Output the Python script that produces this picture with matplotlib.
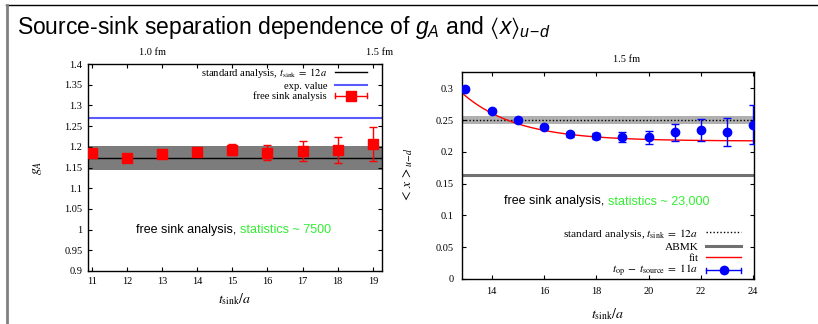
import numpy as np
import matplotlib
matplotlib.use("Agg")
import matplotlib.pyplot as plt
from matplotlib.lines import Line2D
from matplotlib.legend_handler import HandlerBase
import matplotlib.transforms as mtransforms

plt.rcParams['font.family'] = ['Liberation Serif', 'DejaVu Serif']
plt.rcParams['mathtext.fontset'] = 'custom'
plt.rcParams['mathtext.rm'] = 'Liberation Sans'
plt.rcParams['mathtext.it'] = 'Liberation Sans:italic'
plt.rcParams['mathtext.fallback'] = 'stixsans'

# ---------------- data: left panel (g_A) ----------------
gA_t = [11, 12, 13, 14, 15, 16, 17, 18, 19]
gA_val = [1.186, 1.174, 1.183, 1.187, 1.193, 1.186, 1.189, 1.193, 1.206]
gA_err = [0.005, 0.007, 0.007, 0.010, 0.014, 0.018, 0.024, 0.031, 0.041]
gA_std = 1.174
gA_std_lo = 1.144
gA_std_hi = 1.203
gA_exp = 1.27
gA_top_labels = ['1.0 fm', '1.5 fm']
gA_top_pos = [12.74, 19.18]
gA_yticks = [0.9, 0.95, 1.0, 1.05, 1.1, 1.15, 1.2, 1.25, 1.3, 1.35, 1.4]
gA_yticklabels = ['0.9', '0.95', '1', '1.05', '1.1', '1.15', '1.2', '1.25', '1.3', '1.35', '1.4']

# ---------------- data: right panel (<x>_{u-d}) ----------------
x_t = [13, 14, 15, 16, 17, 18, 19, 20, 21, 22, 23, 24]
x_val = [0.2995, 0.2647, 0.2500, 0.2390, 0.2275, 0.2248, 0.2238, 0.2228, 0.2310, 0.2348, 0.2310, 0.2426]
x_err = [0.002, 0.002, 0.002, 0.003, 0.004, 0.005, 0.008, 0.0105, 0.0135, 0.017, 0.0225, 0.031]
x_std = 0.250
x_std_lo = 0.2437
x_std_hi = 0.2558
x_abmk = 0.164
fit_A = 0.2170
fit_B = 0.0710
fit_c = 0.48
fit_t0 = 13
x_top_labels = ['1.5 fm']
x_top_pos = [19.15]
x_yticks = [0, 0.05, 0.1, 0.15, 0.2, 0.25, 0.3]
x_yticklabels = ['0', '0.05', '0.1', '0.15', '0.2', '0.25', '0.3']
x_xticks = [14, 16, 18, 20, 22, 24]

RED = '#ff0000'
BLUE = '#0000ff'
GREEN = '#33ee33'


class HandlerGnuErr(HandlerBase):
    def __init__(self, color, marker, ms, **kw):
        super().__init__(**kw)
        self.color = color
        self.marker = marker
        self.ms = ms

    def create_artists(self, legend, orig_handle, xdescent, ydescent,
                       width, height, fontsize, trans):
        x0 = -xdescent
        x1 = -xdescent + width
        y = -ydescent + height / 2.0
        h = fontsize * 0.22
        arts = [
            Line2D([x0, x1], [y, y], color=self.color, lw=1.0),
            Line2D([x0, x0], [y - h, y + h], color=self.color, lw=1.0),
            Line2D([x1, x1], [y - h, y + h], color=self.color, lw=1.0),
            Line2D([(x0 + x1) / 2], [y], color=self.color, marker=self.marker,
                   ms=self.ms, ls='none'),
        ]
        for a in arts:
            a.set_transform(trans)
        return arts


fig = plt.figure(figsize=(8.18, 3.24), dpi=100)

# frame lines
fig.add_artist(Line2D([6 / 818, 1.0], [1 - 5 / 324, 1 - 5 / 324], color='black', lw=1.0,
                      transform=fig.transFigure))
fig.add_artist(Line2D([6.5 / 818, 6.5 / 818], [0, 1 - 5 / 324], color='#808080', lw=2.0,
                      transform=fig.transFigure))

fig.text(17 / 818, 1 - 34 / 324,
         r'Source-sink separation dependence of $g_A$ and $\langle x\rangle_{u\!-\!d}$',
         fontsize=16.5, family='Liberation Sans', ha='left', va='baseline')

TICK_FS = 7.5

# ---------------- left panel ----------------
ax1 = fig.add_axes([88 / 818, 1 - 271 / 324, 294 / 818, 207 / 324])
ax1.set_xlim(10.89, 19.26)
ax1.set_ylim(0.9, 1.4)
ax1.axhspan(gA_std_lo, gA_std_hi, color='#7c7c7c', lw=0, zorder=1)
l_std = ax1.axhline(gA_std, color='black', lw=1.0, zorder=2)
l_exp = ax1.axhline(gA_exp, color='#5a5aff', lw=1.5, zorder=2)
ax1.errorbar(gA_t, gA_val, yerr=gA_err, fmt='s', color=RED, ms=6.5, capsize=3,
             elinewidth=1.0, capthick=1.0, zorder=3)
h_free = Line2D([], [], color=RED)
ax1.set_xticks(gA_t)
ax1.set_yticks(gA_yticks)
ax1.set_yticklabels(gA_yticklabels)
ax1.tick_params(direction='in', length=3, width=0.8, labelsize=TICK_FS,
                top=True, right=True, pad=4)
for s in ax1.spines.values():
    s.set_linewidth(1.0)
ax1.set_xlabel(r'$t_{\rm sink}/a$', fontsize=10, math_fontfamily='stix', labelpad=4)
ax1.set_ylabel(r'$g_A$', fontsize=10, math_fontfamily='stix', labelpad=14)
trans1 = mtransforms.blended_transform_factory(ax1.transData, ax1.transAxes)
for lab, pos in zip(gA_top_labels, gA_top_pos):
    ax1.text(pos, 1.055, lab, transform=trans1, ha='center', va='center', fontsize=TICK_FS)
xc1 = 0.5 + 4.5 / 294
ax1.text(xc1, 0.2, 'free sink analysis, ', transform=ax1.transAxes, ha='right',
         va='center', fontsize=9, family='Liberation Sans')
ax1.text(xc1, 0.2, 'statistics ~ 7500', transform=ax1.transAxes, ha='left',
         va='center', fontsize=9, family='Liberation Sans', color=GREEN)
leg1 = ax1.legend([l_std, l_exp, h_free],
                  [r'standard analysis, $t_{\rm sink}\;=\;12a$', 'exp. value',
                   'free sink analysis'],
                  loc='upper right', bbox_to_anchor=(0.955, 1.0), markerfirst=False,
                  frameon=False, handlelength=3.0, handletextpad=0.7,
                  labelspacing=0.1, borderpad=0.2, borderaxespad=0.0,
                  handler_map={h_free: HandlerGnuErr(RED, 's', 6.5)},
                  prop={'family': 'Liberation Serif', 'size': 7.7})
for t in leg1.get_texts():
    t.set_math_fontfamily('stix')

# ---------------- right panel ----------------
ax2 = fig.add_axes([462 / 818, 1 - 279 / 324, 292 / 818, 207 / 324])
ax2.set_xlim(12.87, 24.03)
ax2.set_ylim(0, 0.3256)
ax2.axhspan(x_std_lo, x_std_hi, color='#b0b0b0', lw=0, zorder=1)
l_xstd = ax2.axhline(x_std, color='black', lw=1.0, ls=(0, (1, 1.5)), zorder=2)
l_abmk = ax2.axhline(x_abmk, color='#707070', lw=2.2, zorder=2)
tt = np.linspace(12.87, 24.03, 200)
l_fit, = ax2.plot(tt, fit_A + fit_B * np.exp(-fit_c * (tt - fit_t0)), color=RED, lw=1.0, zorder=2)
ax2.errorbar(x_t, x_val, yerr=x_err, fmt='o', color=BLUE, ms=6, capsize=3,
             elinewidth=1.0, capthick=1.0, zorder=3)
h_pts = Line2D([], [], color=BLUE)
ax2.set_xticks(x_xticks)
ax2.set_yticks(x_yticks)
ax2.set_yticklabels(x_yticklabels)
ax2.tick_params(direction='in', length=3, width=0.8, labelsize=TICK_FS,
                top=True, right=True, pad=6)
for s in ax2.spines.values():
    s.set_linewidth(1.0)
ax2.set_xlabel(r'$t_{\rm sink}/a$', fontsize=10, math_fontfamily='stix', labelpad=7)
ax2.set_ylabel(r'$<\,x\,>_{u\!-\!d}$', fontsize=10, math_fontfamily='stix', labelpad=15)
trans2 = mtransforms.blended_transform_factory(ax2.transData, ax2.transAxes)
for lab, pos in zip(x_top_labels, x_top_pos):
    ax2.text(pos, 1 + (72 - 59.3) / 207, lab, transform=trans2, ha='center', va='center',
             fontsize=TICK_FS)
ax2.text(0.5, 0.1225 / 0.3256, 'free sink analysis, ', transform=ax2.transAxes, ha='right',
         va='center', fontsize=9, family='Liberation Sans')
ax2.text(0.5, 0.1225 / 0.3256, 'statistics ~ 23,000', transform=ax2.transAxes, ha='left',
         va='center', fontsize=9, family='Liberation Sans', color=GREEN)
leg2 = ax2.legend([l_xstd, l_abmk, l_fit, h_pts],
                  [r'standard analysis, $t_{\rm sink}\;=\;12a$', 'ABMK', 'fit',
                   r'$t_{\rm op}\;-\;t_{\rm source}\;=\;11a$'],
                  loc='lower right', bbox_to_anchor=(0.962, -0.013), markerfirst=False,
                  frameon=False, handlelength=3.0, handletextpad=0.7,
                  labelspacing=0.0, handleheight=1.05, borderpad=0.2, borderaxespad=0.0,
                  handler_map={h_pts: HandlerGnuErr(BLUE, 'o', 6)},
                  prop={'family': 'Liberation Serif', 'size': 8.2})
for t in leg2.get_texts():
    t.set_math_fontfamily('stix')

fig.savefig('out.png', dpi=100)
